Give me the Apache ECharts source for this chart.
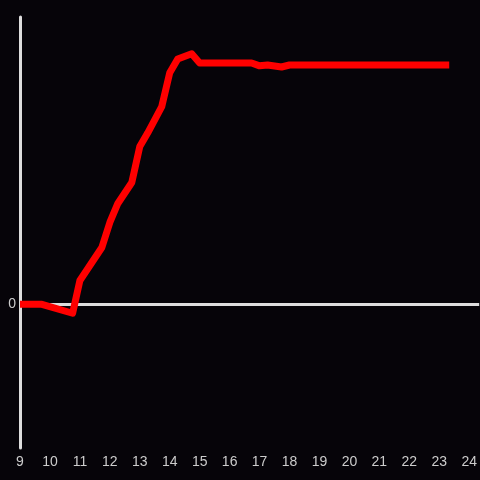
<!DOCTYPE html>
<html>
<head>
<meta charset="utf-8">
<script src="https://cdn.jsdelivr.net/npm/echarts@6/dist/echarts.min.js"></script>
<style>
html, body { margin: 0; padding: 0; background: #060409; }
#main { width: 480px; height: 480px; }
</style>
</head>
<body>
<div id="main"></div>
<script>
// hours of the day
var hours = [9.0, 9.733, 10.757, 11.0, 11.733, 12.0, 12.267, 12.733, 13.0, 13.267, 13.733,
	14.0, 14.267, 14.733, 15.0, 16.733, 17.0, 17.267, 17.733, 18.0, 23.333];
// values
var values = [0, 0, -0.031, 0.083, 0.198, 0.285, 0.351, 0.424, 0.549, 0.597, 0.688,
	0.806, 0.854, 0.872, 0.840, 0.840, 0.830, 0.833, 0.826, 0.833, 0.833];

var myChart = echarts.init(document.getElementById('main'));

var points = [];
for (var i = 0; i < hours.length; i++) {
	points.push([hours[i], values[i]]);
}

var option = {
	backgroundColor: '#060409',
	animation: false,
	grid: {
		left: 20,
		right: 0,
		top: 17,
		bottom: 32
	},
	xAxis: {
		type: 'value',
		min: 9,
		max: 24.333,
		interval: 1,
		axisLine: { show: false, onZero: false },
		axisTick: { show: false },
		splitLine: { show: false },
		axisLabel: {
			color: '#cccccc',
			fontSize: 14,
			margin: 7,
			showMaxLabel: false
		}
	},
	yAxis: {
		type: 'value',
		min: -0.5,
		max: 1,
		interval: 0.5,
		axisLine: {
			show: true,
			lineStyle: { color: '#dddddd', width: 3 }
		},
		axisTick: { show: false },
		splitLine: { show: false },
		axisLabel: {
			color: '#cccccc',
			fontSize: 14,
			margin: 4,
			formatter: function(v) {
				return v === 0 ? '0' : '';
			}
		}
	},
	series: [{
		// zero line
		type: 'line',
		data: [],
		z: 1,
		markLine: {
			silent: true,
			z: 1,
			symbol: 'none',
			label: { show: false },
			lineStyle: { color: '#dddddd', width: 3, type: 'solid' },
			data: [{ yAxis: 0 }]
		}
	}, {
		type: 'line',
		data: points,
		z: 3,
		showSymbol: false,
		lineStyle: {
			color: '#ff0000',
			width: 7,
			join: 'round'
		}
	}]
};
myChart.setOption(option);
</script>
</body>
</html>
